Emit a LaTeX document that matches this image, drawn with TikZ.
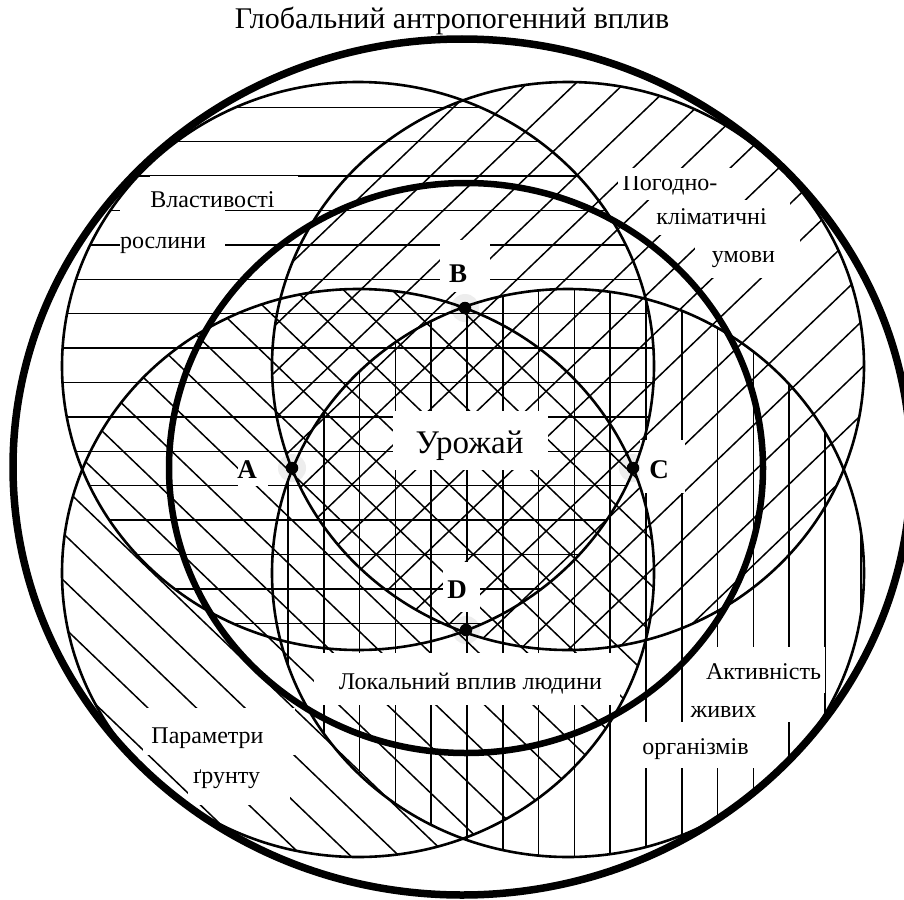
\documentclass[tikz,border=0pt]{standalone}
\usepackage{fontspec}
\setmainfont{Liberation Serif}
\newfontfamily\lserif{Liberation Serif}
\begin{document}
\begin{tikzpicture}[x=1pt,y=-1pt,
  hatch/.style={line width=1.5pt},
  ring/.style={line width=2.6pt},
  thickring/.style={line width=6.5pt},
  outerring/.style={line width=7.5pt},
  wbox/.style={fill=white,draw=none},
  lbl/.style={font=\lserif\fontsize{24}{28}\selectfont, anchor=base, inner sep=0pt},
  ttl/.style={font=\lserif\fontsize{30}{33}\selectfont, anchor=base, inner sep=0pt},
  big/.style={font=\lserif\fontsize{33}{36}\selectfont, anchor=base, inner sep=0pt},
  ptl/.style={font=\lserif\bfseries\fontsize{27}{30}\selectfont, anchor=base, inner sep=0pt},
  blackdot/.style={circle,fill=black,draw=none,inner sep=0pt,minimum size=12.5pt},
  halo/.style={circle,fill=black!7,draw=none,inner sep=0pt,minimum size=28pt}]
\useasboundingbox (0,0) rectangle (904,899);
\fill[white] (0,0) rectangle (904,899);

% halos
\node[halo] (hA) at (292,468) {};
\node[halo] (hB) at (465,308) {};
\node[halo] (hC) at (633,468) {};
\node[halo] (hD) at (466,630) {};

% TL: horizontal hatching
\begin{scope}
\clip (358,366) ellipse [x radius=296pt, y radius=284pt];
\foreach \k in {0,...,15} {\pgfmathsetmacro\yy{107.3+34.4*\k}
  \draw[hatch] (0,\yy) -- (904,\yy);}
\end{scope}
% TR: "/" hatching
\begin{scope}
\clip (568,366) ellipse [x radius=296pt, y radius=284pt];
\foreach \k in {-11,...,15} {\pgfmathsetmacro\cc{822.4+46.6*\k}
  \draw[hatch] (0,\cc) -- (904,{\cc-0.96*904});}
\end{scope}
% BL: "\" hatching
\begin{scope}
\clip (358,573) ellipse [x radius=296pt, y radius=284pt];
\foreach \k in {-20,...,5} {\pgfmathsetmacro\cc{566+46.6*\k}
  \draw[hatch] (0,\cc) -- (904,{\cc+0.96*904});}
\end{scope}
% BR: vertical hatching
\begin{scope}
\clip (568,573) ellipse [x radius=296pt, y radius=284pt];
\foreach \k in {-6,...,11} {\pgfmathsetmacro\xx{467+35.8*\k}
  \draw[hatch] (\xx,0) -- (\xx,899);}
\end{scope}

% white label boxes
\fill[wbox] (150,176) rectangle (298,210);
\fill[wbox] (120,210) rectangle (225,278);
\fill[wbox] (618,168) rectangle (740,200);
\fill[wbox] (650,200) rectangle (790,235);
\fill[wbox] (695,235) rectangle (800,278);
\fill[wbox] (393,411) rectangle (548,470);
\fill[wbox] (238,452) rectangle (268,486);
\fill[wbox] (440,240) rectangle (490,292);
\fill[wbox] (640,440) rectangle (685,493);
\fill[wbox] (443,562) rectangle (480,612);
\fill[wbox] (314,653) rectangle (620,705);
\fill[wbox] (143,708) rectangle (295,755);
\fill[wbox] (188,755) rectangle (290,805);
\fill[wbox] (699,647) rectangle (825,693);
\fill[wbox] (686,693) rectangle (790,722);
\fill[wbox] (638,722) rectangle (785,768);

% circles
\draw[ring] (358,366) ellipse [x radius=296pt, y radius=284pt];
\draw[ring] (568,366) ellipse [x radius=296pt, y radius=284pt];
\draw[ring] (358,573) ellipse [x radius=296pt, y radius=284pt];
\draw[ring] (568,573) ellipse [x radius=296pt, y radius=284pt];
\draw[thickring] (466,468) ellipse [x radius=297pt, y radius=285pt];
\draw[outerring] (462,467) ellipse [x radius=449pt, y radius=428pt];

% texts
\node[ttl] (title) at (452,29) {Глобальний антропогенний вплив};
\node[lbl] (t1a) at (212.5,207) {Властивості};
\node[lbl] (t1b) at (163,248) {рослини};
\begin{scope}
\clip (600,176) rectangle (760,205);
\node[lbl] (t2a) at (670,190) {Погодно-};
\end{scope}
\node[lbl] (t2b) at (711.5,224) {кліматичні};
\node[lbl] (t2c) at (743.5,262) {умови};
\node[big] (crop) at (469.5,453) {Урожай};
\node[ptl] (lA) at (247,478) {A};
\node[ptl] (lB) at (458,282) {B};
\node[ptl] (lC) at (659,478) {C};
\node[ptl] (lD) at (457,598) {D};
\node[lbl] (loc) at (470.5,689) {Локальний вплив людини};
\node[lbl] (t3a) at (207.5,743) {Параметри};
\node[lbl] (t3b) at (226.5,783) {ґрунту};
\node[lbl] (t4a) at (763.5,679) {Активність};
\node[lbl] (t4b) at (723.5,717) {живих};
\node[lbl] (t4c) at (695.5,754) {організмів};

% dots
\node[blackdot] (A) at (292,468) {};
\node[blackdot] (B) at (465,308) {};
\node[blackdot] (C) at (633,468) {};
\node[blackdot] (D) at (466,630) {};
\end{tikzpicture}
\end{document}
